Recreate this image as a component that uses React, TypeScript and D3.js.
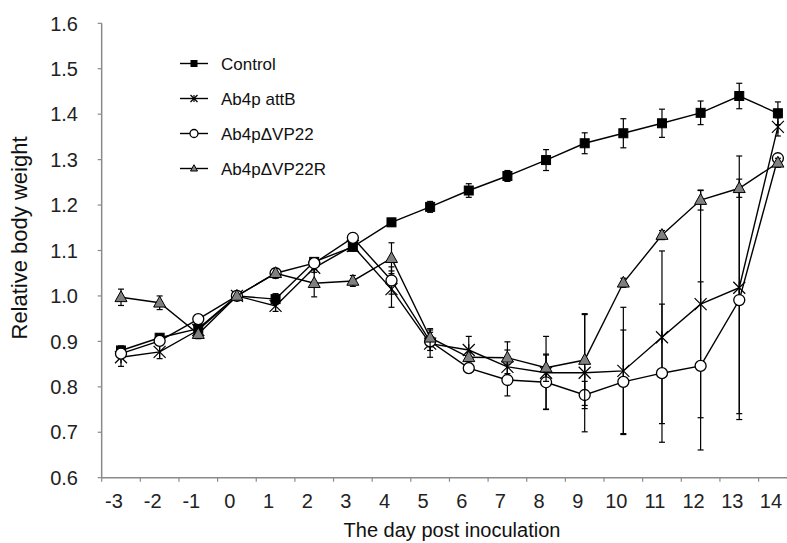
import React from "react";
import * as d3 from "d3";

const days = [-3, -2, -1, 0, 1, 2, 3, 4, 5, 6, 7, 8, 9, 10, 11, 12, 13, 14];
const yTicks = [0.6, 0.7, 0.8, 0.9, 1.0, 1.1, 1.2, 1.3, 1.4, 1.5, 1.6];

const control = [0.88, 0.908, 0.928, 1.0, 0.993, 1.075, 1.108, 1.162, 1.196, 1.232, 1.264, 1.299, 1.336, 1.358, 1.38, 1.403, 1.44, 1.402];
const controlErr = [0.01, 0.008, 0.008, 0, 0.012, 0.008, 0.008, 0.008, 0.012, 0.015, 0.012, 0.023, 0.023, 0.032, 0.031, 0.026, 0.028, 0.025];

const attB = [0.865, 0.877, 0.925, 1.0, 0.978, 1.062, 1.11, 1.015, 0.895, 0.881, 0.844, 0.831, 0.831, 0.835, 0.909, 0.982, 1.018, 1.372];
const attBErr = [0.02, 0.015, 0.01, 0, 0.012, 0.01, 0.01, 0.04, 0.03, 0.03, 0.037, 0.08, 0.13, 0.14, 0.19, 0.25, 0.29, 0.02];

const dVP22 = [0.873, 0.901, 0.949, 1.0, 1.05, 1.072, 1.128, 1.034, 0.9, 0.841, 0.815, 0.81, 0.782, 0.811, 0.83, 0.846, 0.991, 1.303];
const dVP22Err = [0.01, 0.01, 0.01, 0, 0.01, 0.01, 0.01, 0.03, 0.02, 0.01, 0.035, 0.06, 0.03, 0.114, 0.152, 0.185, 0.25, 0.01];

const dVP22R = [0.997, 0.985, 0.916, 1.0, 1.05, 1.028, 1.033, 1.083, 0.908, 0.865, 0.864, 0.842, 0.859, 1.029, 1.134, 1.211, 1.237, 1.293];
const dVP22RErr = [0.018, 0.015, 0.01, 0, 0.01, 0.03, 0.012, 0.034, 0.02, 0.01, 0.035, 0.03, 0.1, 0.01, 0.01, 0.022, 0.02, 0.01];

const seriesNames = ["Control", "Ab4p attB", "Ab4p\u0394VP22", "Ab4p\u0394VP22R"];

type Kind = "square" | "star" | "circle" | "triangle";
const series: { name: string; vals: number[]; err: number[]; kind: Kind }[] = [
  { name: seriesNames[0], vals: control, err: controlErr, kind: "square" },
  { name: seriesNames[1], vals: attB, err: attBErr, kind: "star" },
  { name: seriesNames[2], vals: dVP22, err: dVP22Err, kind: "circle" },
  { name: seriesNames[3], vals: dVP22R, err: dVP22RErr, kind: "triangle" },
];

const FONT = "'Liberation Sans', Arial, Helvetica, sans-serif";
const AXIS = "#8a8a8a";

function Marker({ kind, cx, cy, s }: { kind: Kind; cx: number; cy: number; s: number }) {
  if (kind === "square")
    return <rect x={cx - s / 2} y={cy - s / 2} width={s} height={s} fill="#000" stroke="#000" strokeWidth={1} />;
  if (kind === "circle")
    return <circle cx={cx} cy={cy} r={s / 2} fill="#fff" stroke="#000" strokeWidth={1.3} />;
  if (kind === "triangle") {
    const h = s * 0.9;
    const pts = `${cx},${cy - h * 0.6} ${cx + s / 2},${cy + h * 0.4} ${cx - s / 2},${cy + h * 0.4}`;
    return <polygon points={pts} fill="#808080" stroke="#000" strokeWidth={1} />;
  }
  const r = s / 2;
  return (
    <g stroke="#000" strokeWidth={1.2}>
      <line x1={cx - r} y1={cy - r} x2={cx + r} y2={cy + r} />
      <line x1={cx - r} y1={cy + r} x2={cx + r} y2={cy - r} />
      <line x1={cx} y1={cy - r} x2={cx} y2={cy + r} />
    </g>
  );
}

export default function App() {
  const W = 787, H = 543;
  const x = d3.scaleLinear().domain([-3, 14]).range([121, 777.9]);
  const y = d3.scaleLinear().domain([0.6, 1.6]).range([477.7, 23.3]);
  const line = d3.line<number>().x((_, i) => x(days[i])).y((v) => y(v));
  const x0 = x(-3.5);
  const yBase = y(0.6);
  const cap = 3;

  return (
    <svg width={W} height={H} style={{ position: "absolute", left: 0, top: 0, background: "#fff" }} fontFamily={FONT}>
      {/* axes */}
      <line x1={x0} y1={y(1.6)} x2={x0} y2={yBase} stroke={AXIS} strokeWidth={1.5} />
      <line x1={x0} y1={yBase} x2={W} y2={yBase} stroke={AXIS} strokeWidth={1.5} />
      {yTicks.map((t) => (
        <g key={t}>
          <line x1={x0 - 4} x2={x0} y1={y(t)} y2={y(t)} stroke={AXIS} strokeWidth={1.2} />
          <text x={78} y={y(t)} dy="0.36em" textAnchor="end" fontSize={20} fill="#222">
            {t.toFixed(1)}
          </text>
        </g>
      ))}
      {days.map((d) => (
        <g key={d}>
          <line x1={x(d - 0.5)} x2={x(d - 0.5)} y1={yBase} y2={yBase + 4} stroke={AXIS} strokeWidth={1.2} />
          <text x={x(d) - 7} y={508} textAnchor="middle" fontSize={20} fill="#222">
            {d}
          </text>
        </g>
      ))}
      <text x={452} y={537} textAnchor="middle" fontSize={20} fill="#111">
        The day post inoculation
      </text>
      <text transform={`translate(27,238) rotate(-90)`} textAnchor="middle" fontSize={22} fill="#111">
        Relative body weight
      </text>

      {/* series */}
      {series.map((s) => (
        <g key={s.name}>
          {s.vals.map((v, i) =>
            s.err[i] > 0 ? (
              <g key={i} stroke="#000" strokeWidth={1.2}>
                <line x1={x(days[i])} x2={x(days[i])} y1={y(v + s.err[i])} y2={y(v - s.err[i])} />
                <line x1={x(days[i]) - cap} x2={x(days[i]) + cap} y1={y(v + s.err[i])} y2={y(v + s.err[i])} />
                <line x1={x(days[i]) - cap} x2={x(days[i]) + cap} y1={y(v - s.err[i])} y2={y(v - s.err[i])} />
              </g>
            ) : null
          )}
          <path d={line(s.vals) || ""} fill="none" stroke="#000" strokeWidth={1.4} />
          {s.vals.map((v, i) => (
            <Marker key={i} kind={s.kind} cx={x(days[i])} cy={y(v)} s={s.kind === "star" ? 12 : s.kind === "triangle" ? 12 : s.kind === "circle" ? 11 : 9} />
          ))}
        </g>
      ))}

      {/* legend */}
      {series.map((s, i) => {
        const ly = 63.5 + i * 35;
        return (
          <g key={s.name}>
            <line x1={180} x2={208} y1={ly} y2={ly} stroke="#000" strokeWidth={1.4} />
            <Marker kind={s.kind} cx={194} cy={ly} s={s.kind === "square" ? 6 : s.kind === "circle" ? 8 : 7} />
            <text x={221} y={ly} dy="0.36em" fontSize={17} fill="#111">
              {s.name}
            </text>
          </g>
        );
      })}
    </svg>
  );
}
